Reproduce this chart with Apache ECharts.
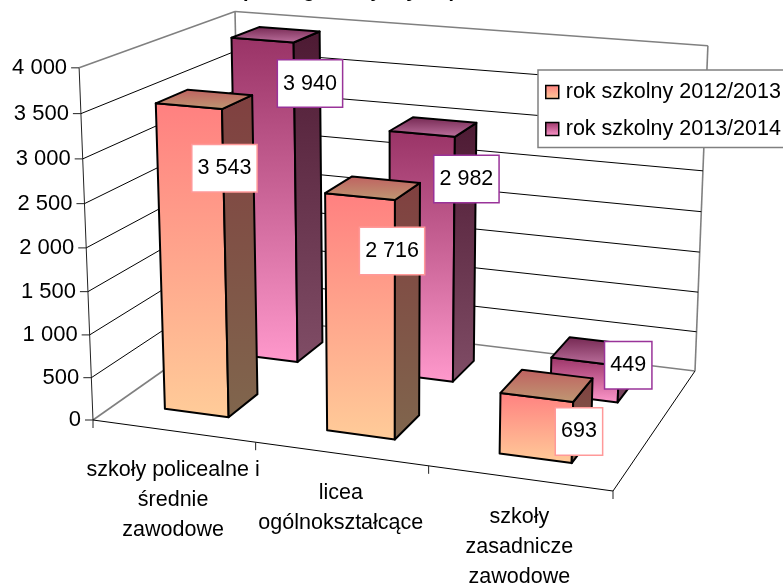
<!DOCTYPE html>
<html>
<head>
<meta charset="utf-8">
<title>szkoły</title>
<script src="https://cdn.jsdelivr.net/npm/echarts@6/dist/echarts.min.js"></script>
<style>
    html, body { margin: 0; padding: 0; background: #fff; overflow: hidden; }
    #chart { width: 783px; height: 583px; }
</style>
</head>
<body>
<div id="chart"></div>
<script>
// data
var titleText = 'Uczniowie szkół ponadgimnazjalnych (';
var categories = ['szkoły policealne i\nśrednie\nzawodowe', 'licea\nogólnokształcące', 'szkoły\nzasadnicze\nzawodowe'];
var yearNames = ['rok szkolny 2012/2013', 'rok szkolny 2013/2014'];
var values2012 = [3543, 2716, 693];
var values2013 = [3940, 2982, 449];
var valueLabels2012 = ['3 543', '2 716', '693'];
var valueLabels2013 = ['3 940', '2 982', '449'];
var yTicks = [0, 500, 1000, 1500, 2000, 2500, 3000, 3500, 4000];
var yTickLabels = ['0', '500', '1 000', '1 500', '2 000', '2 500', '3 000', '3 500', '4 000'];

// corners of the 3d box on screen, u along categories, v into depth, w up
var boxO = [93, 420], boxU = [613, 491], boxV = [241, 316], boxUV = [695, 371];
var boxW = [79, 68], boxVW = [235, 14], boxUVW = [708, 43];

function hom(p) { return [p[0], p[1], 1]; }
function det3(a, b, c) {
    return a[0] * (b[1] * c[2] - b[2] * c[1]) - b[0] * (a[1] * c[2] - a[2] * c[1]) + c[0] * (a[1] * b[2] - a[2] * b[1]);
}
function solve3(a, b, c, d) {
    var k = det3(a, b, c);
    return [det3(d, b, c) / k, det3(a, d, c) / k, det3(a, b, d) / k];
}
function neg(p) { return [-p[0], -p[1], -p[2]]; }

var O = hom(boxO);
var s1 = solve3(hom(boxU), hom(boxV), neg(hom(boxUV)), O);
function column(p, k) { return [p[0] * k - O[0], p[1] * k - O[1], k - 1]; }
var colU = column(hom(boxU), s1[0]);
var colV = column(hom(boxV), s1[1]);

// the up column is a least squares fit on the three top corners
function fitUp() {
    var pairs = [
        [boxW, O],
        [boxVW, [O[0] + colV[0], O[1] + colV[1], O[2] + colV[2]]],
        [boxUVW, [O[0] + colU[0] + colV[0], O[1] + colU[1] + colV[1], O[2] + colU[2] + colV[2]]]
    ];
    var m = [[0, 0, 0], [0, 0, 0], [0, 0, 0]], r = [0, 0, 0];
    pairs.forEach(function (pair) {
        var t = pair[0], b = pair[1];
        [[1, 0, -t[0], t[0] * b[2] - b[0]], [0, 1, -t[1], t[1] * b[2] - b[1]]].forEach(function (eq) {
            for (var i = 0; i < 3; i++) {
                for (var j = 0; j < 3; j++) { m[i][j] += eq[i] * eq[j]; }
                r[i] += eq[i] * eq[3];
            }
        });
    });
    return solve3(m[0], m[1], m[2], r);
}
var colW = fitUp();

function rawProject(u, v, w) {
    var x = O[0] + u * colU[0] + v * colV[0] + w * colW[0];
    var y = O[1] + u * colU[1] + v * colV[1] + w * colW[1];
    var z = 1 + u * colU[2] + v * colV[2] + w * colW[2];
    return [x / z, y / z];
}

// picture is not quite a true projection: bend u a bit and pull the top half way to the corners
var uBend = 0.97;
var topPull = 0.5;
function residual(corner, u, v) {
    var p = rawProject(u, v, 1);
    return [(corner[0] - p[0]) * topPull, (corner[1] - p[1]) * topPull];
}
var fixW = residual(boxW, 0, 0), fixVW = residual(boxVW, 0, 1), fixUVW = residual(boxUVW, 1, 1);

function project(u, v, w) {
    var ub = uBend * u / (1 + (uBend - 1) * u);
    var p = rawProject(ub, v, w);
    return [
        p[0] + w * (fixW[0] + ub * (fixUVW[0] - fixVW[0]) + v * (fixVW[0] - fixW[0])),
        p[1] + w * (fixW[1] + ub * (fixUVW[1] - fixVW[1]) + v * (fixVW[1] - fixW[1]))
    ];
}

// depth of the two rows, bar width as part of the category band
var rowFront = [0.15, 0.35], rowBack = [0.65, 0.85];
var barPart = 0.4;
var font = 'Liberation Sans';
var fontSize = 21.5;

// where excel left the value boxes, pixels from the middle of the bar top
var labelShift2012 = [[20, 69], [19, 63], [32, 46]];
var labelShift2013 = [[34, 49], [33, 52], [34.5, 14]];

var styles2012 = {
    front: ['#FF8080', '#FFCC99'], side: ['#804040', '#80664D'], top: ['#BF6060', '#BF9973'],
    border: '#FF9999'
};
var styles2013 = {
    front: ['#993366', '#FF99CC'], side: ['#4D1A33', '#804D66'], top: ['#732650', '#BF73A0'],
    border: '#993399'
};

function grad(c) {
    return new echarts.graphic.LinearGradient(0, 0, 0, 1, [{offset: 0, color: c[0]}, {offset: 1, color: c[1]}]);
}

// hidden grid gives the scales, its pixels get turned into u and w
function toBox(params, pt) {
    var g = params.coordSys;
    return [(pt[0] - g.x) / g.width, (g.y + g.height - pt[1]) / g.height];
}

function line(a, b, color, width) {
    return {
        type: 'line',
        shape: {x1: a[0], y1: a[1], x2: b[0], y2: b[1]},
        style: {stroke: color, lineWidth: width}
    };
}

function face(points, colors) {
    return {
        type: 'polygon',
        shape: {points: points},
        style: {fill: grad(colors), stroke: '#000', lineWidth: 2, lineJoin: 'round'}
    };
}

function barRenderer(row, st) {
    return function (params, api) {
        var pt = toBox(params, api.coord([api.value(0), api.value(1)]));
        var halfWidth = api.size([1, 0])[0] / params.coordSys.width * barPart / 2;
        var u0 = pt[0] - halfWidth, u1 = pt[0] + halfWidth;
        var v0 = row[0], v1 = row[1], w = pt[1];
        return {
            type: 'group',
            children: [
                face([project(u0, v0, w), project(u1, v0, w), project(u1, v0, 0), project(u0, v0, 0)], st.front),
                face([project(u1, v0, w), project(u1, v1, w), project(u1, v1, 0), project(u1, v0, 0)], st.side),
                face([project(u0, v1, w), project(u1, v1, w), project(u1, v0, w), project(u0, v0, w)], st.top)
            ]
        };
    };
}

function labelRenderer(row, st, texts, shifts) {
    return function (params, api) {
        var i = api.value(0);
        var pt = toBox(params, api.coord([i, api.value(1)]));
        var p = project(pt[0], (row[0] + row[1]) / 2, pt[1]);
        return {
            type: 'text',
            x: p[0] + shifts[i][0],
            y: p[1] + shifts[i][1],
            style: {
                text: texts[i], align: 'center', verticalAlign: 'middle',
                font: fontSize + 'px "' + font + '"', fill: '#000',
                backgroundColor: '#fff', borderColor: st.border, borderWidth: 1.5,
                padding: [12, 5]
            }
        };
    };
}

// walls, grid lines and the value ticks
function renderWalls(params, api) {
    var g = params.coordSys;
    var w = (g.y + g.height - api.coord([0, api.value(0)])[1]) / g.height;
    var i = params.dataIndex;
    var edge = (i === 0 || i === yTicks.length - 1);
    var color = edge ? '#808080' : '#000';
    var width = edge ? 1.6 : 1;
    var a = project(0, 0, w), b = project(0, 1, w), c = project(1, 1, w);
    var children = [
        line(a, b, color, width),
        line(b, c, color, width),
        line([a[0] - 8, a[1]], a, '#222', 1),
        {
            type: 'text',
            x: a[0] - 12,
            y: a[1],
            style: {text: yTickLabels[i], align: 'right', verticalAlign: 'middle', font: '22px "' + font + '"', fill: '#000'}
        }
    ];
    if (i === 0) {
        children.push(line(project(0, 1, 0), project(0, 1, 1), '#808080', 1.6));
        children.push(line(project(1, 1, 0), project(1, 1, 1), '#808080', 1.6));
        children.push(line(project(0, 0, 0), project(0, 0, 1), '#222', 1));
        children.push(line(project(0, 0, 0), project(1, 0, 0), '#000', 1));
        children.push(line(project(1, 0, 0), project(1, 1, 0), '#000', 1));
    }
    return {type: 'group', children: children};
}

// category ticks and labels under the floor
function renderCategory(params, api) {
    var i = api.value(0);
    var pt = toBox(params, api.coord([i, 0]));
    var half = api.size([1, 0])[0] / params.coordSys.width / 2;
    var p = project(pt[0], 0, 0);
    var t = project(pt[0] - half, 0, 0);
    var children = [
        line(t, [t[0], t[1] + 8], '#222', 1),
        {
            type: 'text',
            x: p[0],
            y: p[1] + 24,
            style: {text: categories[i], align: 'center', verticalAlign: 'top', font: fontSize + 'px "' + font + '"', lineHeight: 30, fill: '#000'}
        }
    ];
    if (i === categories.length - 1) {
        var e = project(1, 0, 0);
        children.push(line(e, [e[0], e[1] + 8], '#222', 1));
    }
    return {type: 'group', children: children};
}

function rows(values) {
    return values.map(function (v, i) { return [i, v]; });
}

var chart = echarts.init(document.getElementById('chart'));

var option = {
    animation: false,
    backgroundColor: '#fff',
    title: {
        text: titleText,
        right: 330,
        top: -19,
        padding: 0,
        textStyle: {fontFamily: font, fontSize: 20, fontWeight: 'bold', color: '#000'}
    },
    grid: {left: 0, top: 0, width: 600, height: 400, show: false},
    xAxis: {type: 'category', data: categories, show: false},
    yAxis: {type: 'value', min: 0, max: 4000, interval: 500, show: false},
    legend: {
        left: 538,
        top: 70,
        orient: 'vertical',
        z: 20,
        padding: [11, 20, 7.5, 7],
        itemGap: 15,
        itemWidth: 13,
        itemHeight: 13,
        backgroundColor: '#fff',
        borderColor: '#808080',
        borderWidth: 1.5,
        borderRadius: 0,
        selectedMode: false,
        textStyle: {fontFamily: font, fontSize: fontSize, color: '#000', padding: [0, 0, 0, 2]},
        data: [
            {name: yearNames[0], icon: 'rect', itemStyle: {color: grad(styles2012.front), borderColor: '#000', borderWidth: 1.5}},
            {name: yearNames[1], icon: 'rect', itemStyle: {color: grad(styles2013.front), borderColor: '#000', borderWidth: 1.5}}
        ]
    },
    series: [
        {type: 'custom', z: 1, silent: true, renderItem: renderWalls, data: yTicks.map(function (v) { return [v]; }), encode: {y: 0}},
        {type: 'custom', z: 1, silent: true, renderItem: renderCategory, data: categories.map(function (c, i) { return [i]; }), encode: {x: 0}},
        {type: 'custom', name: yearNames[1], z: 2, renderItem: barRenderer(rowBack, styles2013), data: rows(values2013), encode: {x: 0, y: 1}},
        {type: 'custom', name: yearNames[0], z: 3, renderItem: barRenderer(rowFront, styles2012), data: rows(values2012), encode: {x: 0, y: 1}},
        {type: 'custom', z: 5, renderItem: labelRenderer(rowBack, styles2013, valueLabels2013, labelShift2013), data: rows(values2013), encode: {x: 0, y: 1}},
        {type: 'custom', z: 5, renderItem: labelRenderer(rowFront, styles2012, valueLabels2012, labelShift2012), data: rows(values2012), encode: {x: 0, y: 1}}
    ]
};

chart.setOption(option);
</script>
</body>
</html>
